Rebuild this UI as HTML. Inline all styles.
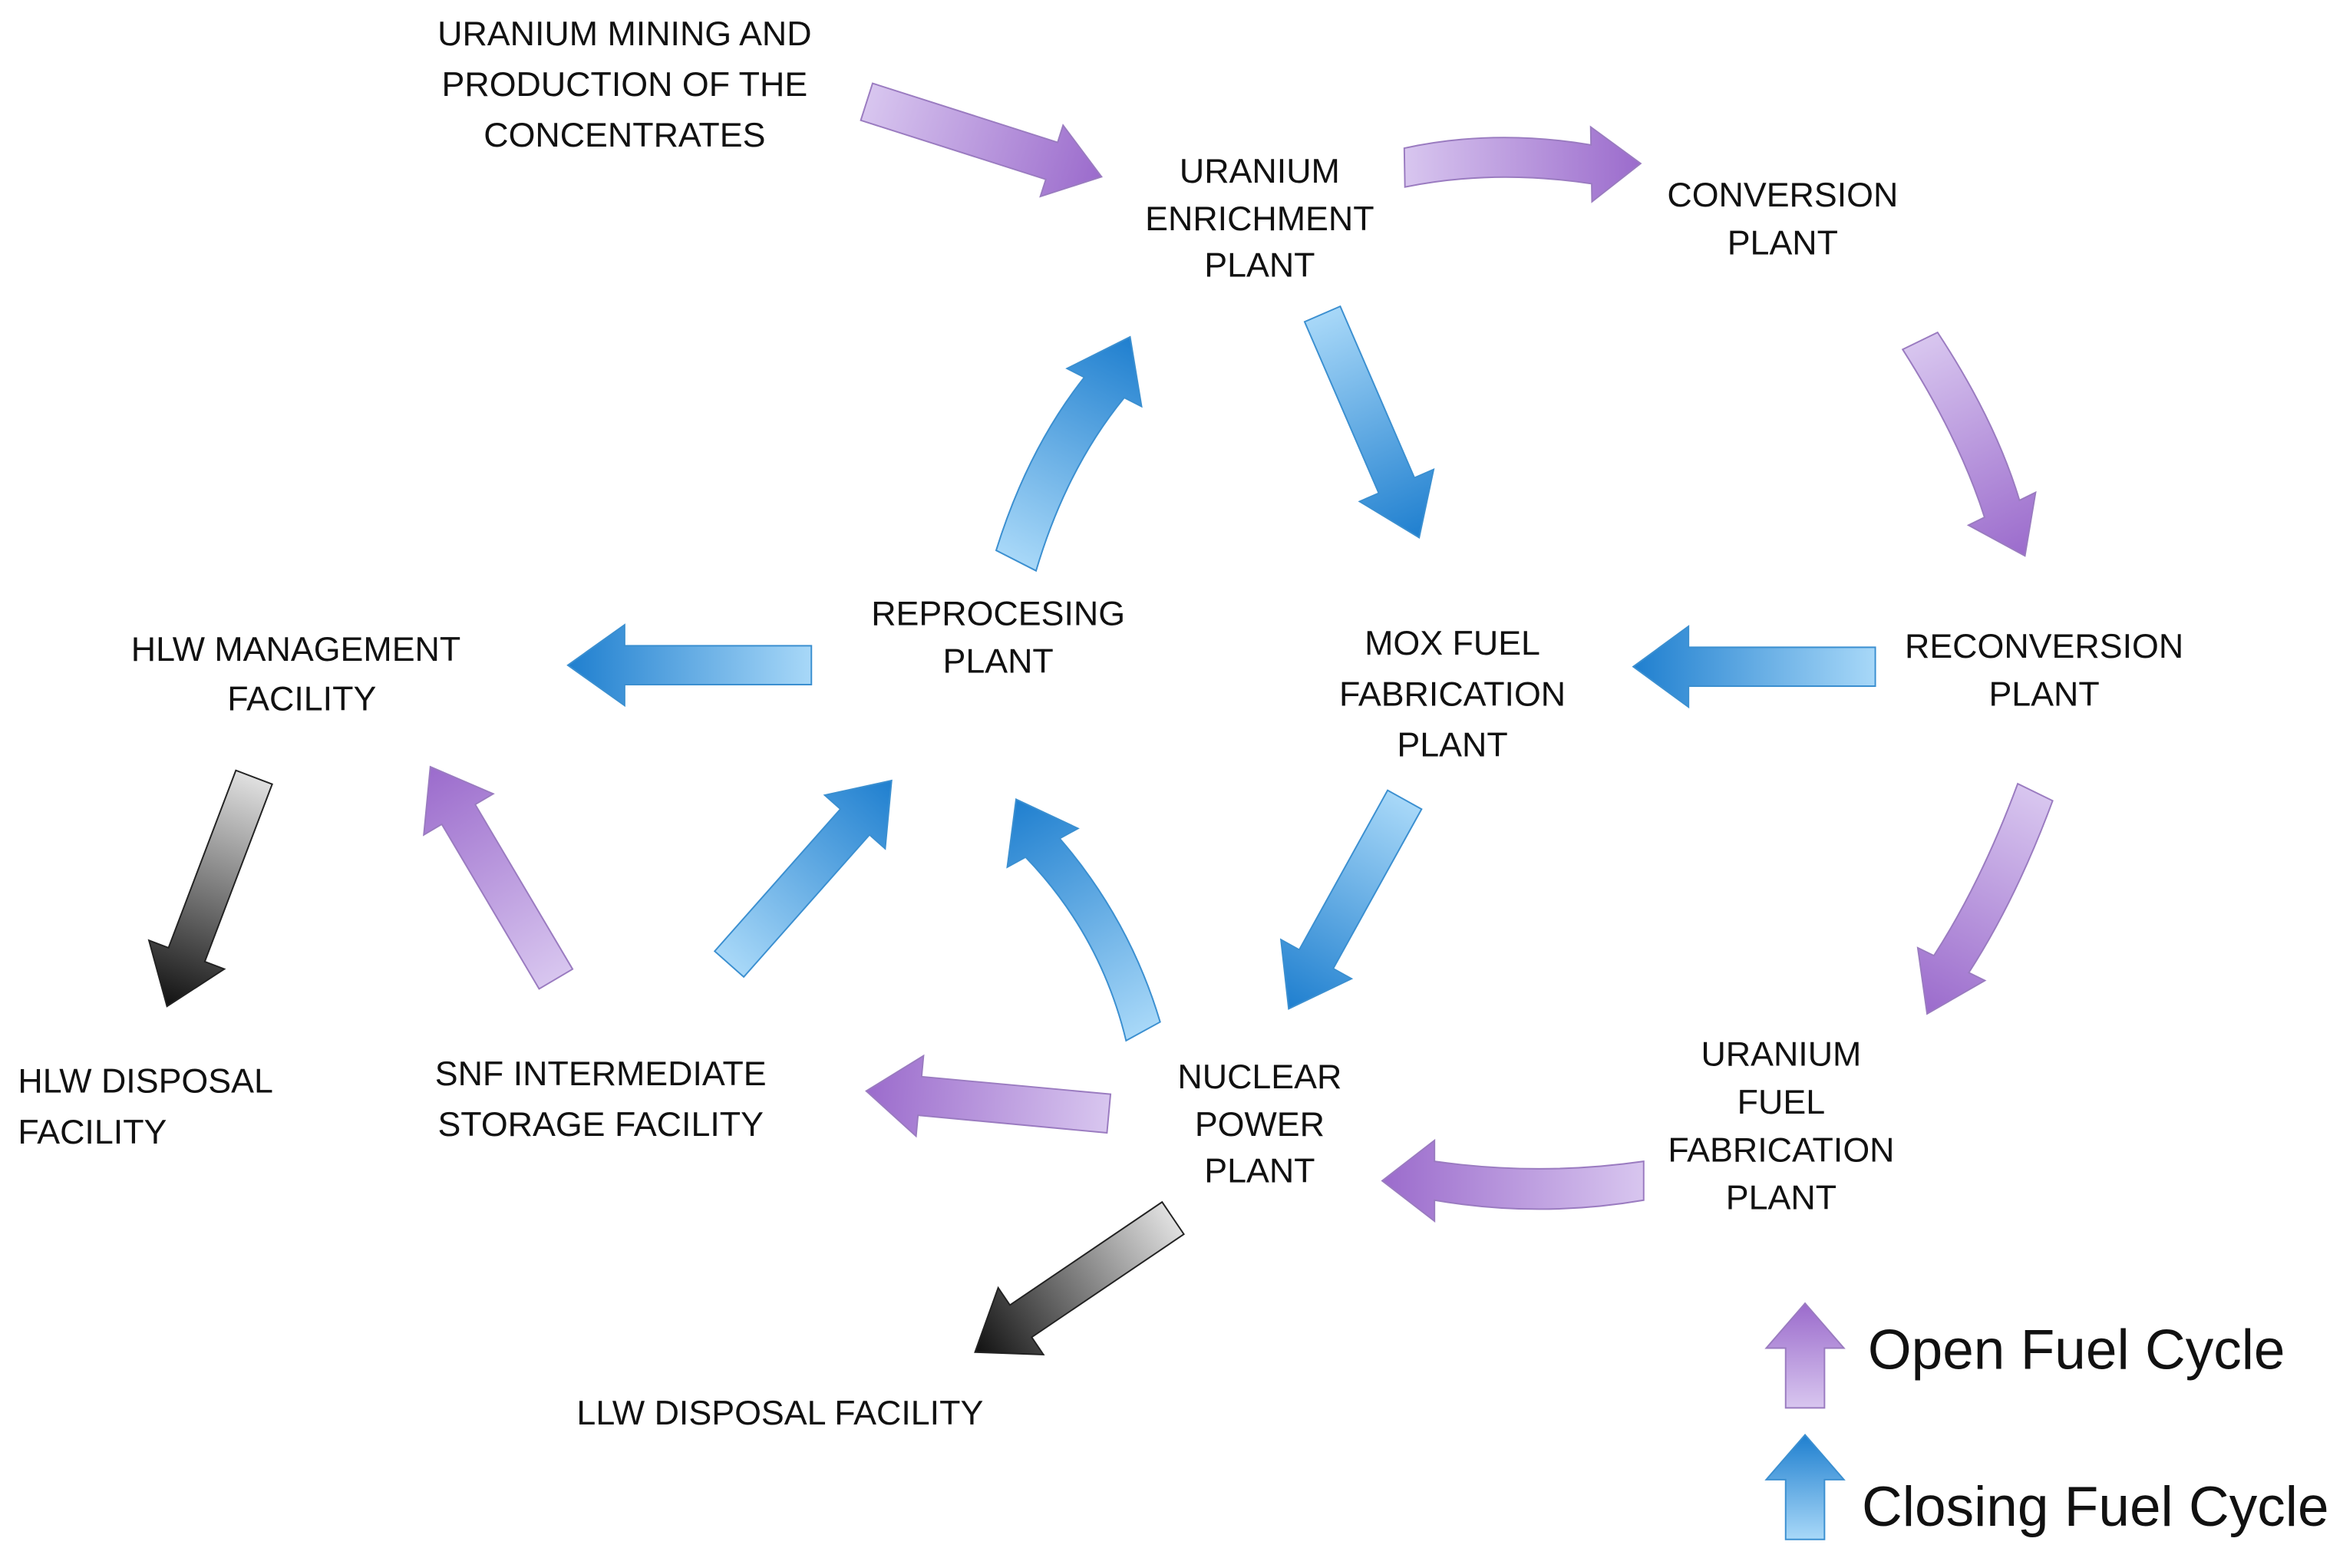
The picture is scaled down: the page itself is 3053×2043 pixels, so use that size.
<!DOCTYPE html>
<html><head><meta charset="utf-8"><style>
html,body{margin:0;padding:0;background:#fff;}
svg{display:block;}
text{font-family:"Liberation Sans",sans-serif;fill:#111;}
</style></head><body>
<svg width="3053" height="2043" viewBox="0 0 1568 1049" xmlns="http://www.w3.org/2000/svg">
<defs>
<linearGradient id="gp" x1="0" y1="0" x2="1" y2="0"><stop offset="0" stop-color="#d8c6ef"/><stop offset="1" stop-color="#9b6bcc"/></linearGradient>
<linearGradient id="gb" x1="0" y1="0" x2="1" y2="0"><stop offset="0" stop-color="#a8d8f8"/><stop offset="1" stop-color="#1f7fcf"/></linearGradient>
<linearGradient id="gk" x1="0" y1="0" x2="1" y2="0"><stop offset="0" stop-color="#e0e0e0"/><stop offset="1" stop-color="#111"/></linearGradient>
</defs>
<g stroke-width="1">
<g transform="translate(580,68) rotate(17.7)"><polygon fill="url(#gp)" stroke="#9a7bc0" points="0,-13 130,-13 130,-25 165,0 130,25 130,13 0,13"/></g>
<g transform="translate(940,112) rotate(-1)"><path fill="url(#gp)" stroke="#9a7bc0" d="M0,-13 Q60,-25 125,-13 L125,-25 L158,0 L125,25 L125,13 Q60,2 0,13 Z"/></g>
<g transform="translate(1285,228) rotate(64)"><path fill="url(#gp)" stroke="#9a7bc0" d="M0,-13 Q70,-22 125,-13 L125,-25 L160,0 L125,25 L125,13 Q70,5 0,13 Z"/></g>
<g transform="translate(1255,446) rotate(180)"><polygon fill="url(#gb)" stroke="#3b8fd0" points="0,-13 125,-13 125,-27 162,0 125,27 125,13 0,13"/></g>
<g transform="translate(1362,530) rotate(116)"><path fill="url(#gp)" stroke="#9a7bc0" d="M0,-13 Q70,-20 128,-13 L128,-25 L165,0 L128,25 L128,13 Q70,6 0,13 Z"/></g>
<g transform="translate(1100,790) rotate(180)"><path fill="url(#gp)" stroke="#9a7bc0" d="M0,-13 Q70,-25 140,-13 L140,-27 L175,0 L140,27 L140,13 Q70,3 0,13 Z"/></g>
<g transform="translate(940,535) rotate(119)"><polygon fill="url(#gb)" stroke="#3b8fd0" points="0,-13 122,-13 122,-27 160,0 122,27 122,13 0,13"/></g>
<g transform="translate(885,210) rotate(66.6)"><polygon fill="url(#gb)" stroke="#3b8fd0" points="0,-13 125,-13 125,-27 163,0 125,27 125,13 0,13"/></g>
<g transform="translate(680,375) rotate(-63)"><path fill="url(#gb)" stroke="#3b8fd0" d="M0,-15 Q70,-27 130,-15 L130,-28 L168,0 L130,28 L130,15 Q70,2 0,15 Z"/></g>
<g transform="translate(543,445) rotate(180)"><polygon fill="url(#gb)" stroke="#3b8fd0" points="0,-13 125,-13 125,-27 163,0 125,27 125,13 0,13"/></g>
<g transform="translate(765,690) rotate(-118.7)"><path fill="url(#gb)" stroke="#3b8fd0" d="M0,-13 Q70,6 140,-13 L140,-27 L177,0 L140,27 L140,13 Q70,28 0,13 Z"/></g>
<g transform="translate(488,645) rotate(-48.5)"><polygon fill="url(#gb)" stroke="#3b8fd0" points="0,-13 127,-13 127,-27 164,0 127,27 127,13 0,13"/></g>
<g transform="translate(372,655) rotate(-120.6)"><polygon fill="url(#gp)" stroke="#9a7bc0" points="0,-13 128,-13 128,-27 165,0 128,27 128,13 0,13"/></g>
<g transform="translate(170,520) rotate(110.8)"><polygon fill="url(#gk)" stroke="#222" points="0,-13 127,-13 127,-27 164,0 127,27 127,13 0,13"/></g>
<g transform="translate(742,745) rotate(-174.7)"><polygon fill="url(#gp)" stroke="#9a7bc0" points="0,-13 127,-13 127,-27 163,0 127,27 127,13 0,13"/></g>
<g transform="translate(785,815) rotate(145.9)"><polygon fill="url(#gk)" stroke="#222" points="0,-13 123,-13 123,-27 160,0 123,27 123,13 0,13"/></g>
<g transform="translate(1208,942) rotate(-90)"><polygon fill="url(#gp)" stroke="#9a7bc0" points="0,-13 40,-13 40,-26 70,0 40,26 40,13 0,13"/></g>
<g transform="translate(1208,1030) rotate(-90)"><polygon fill="url(#gb)" stroke="#3b8fd0" points="0,-13 40,-13 40,-26 70,0 40,26 40,13 0,13"/></g>
</g>
<g font-size="23" text-anchor="middle" dominant-baseline="middle">
<text x="418" y="24">URANIUM MINING AND</text><text x="418" y="58">PRODUCTION OF THE</text><text x="418" y="92">CONCENTRATES</text>
<text x="843" y="116">URANIUM</text><text x="843" y="148">ENRICHMENT</text><text x="843" y="179">PLANT</text>
<text x="1193" y="132">CONVERSION</text><text x="1193" y="164">PLANT</text>
<text x="1368" y="434">RECONVERSION</text><text x="1368" y="466">PLANT</text>
<text x="972" y="432">MOX FUEL</text><text x="972" y="466">FABRICATION</text><text x="972" y="500">PLANT</text>
<text x="668" y="412">REPROCESING</text><text x="668" y="444">PLANT</text>
<text x="198" y="436">HLW MANAGEMENT</text><text x="202" y="469">FACILITY</text>
<text x="402" y="720">SNF INTERMEDIATE</text><text x="402" y="754">STORAGE FACILITY</text>
<text x="843" y="722">NUCLEAR</text><text x="843" y="754">POWER</text><text x="843" y="785">PLANT</text>
<text x="1192" y="707">URANIUM</text><text x="1192" y="739">FUEL</text><text x="1192" y="771">FABRICATION</text><text x="1192" y="803">PLANT</text>
<text x="522" y="947">LLW DISPOSAL FACILITY</text>
</g>
<g font-size="23" dominant-baseline="middle">
<text x="12" y="725">HLW DISPOSAL</text><text x="12" y="759">FACILITY</text>
</g>
<g font-size="37.5" dominant-baseline="middle">
<text x="1250" y="906">Open Fuel Cycle</text>
<text x="1246" y="1011">Closing Fuel Cycle</text>
</g>
</svg>
</body></html>
